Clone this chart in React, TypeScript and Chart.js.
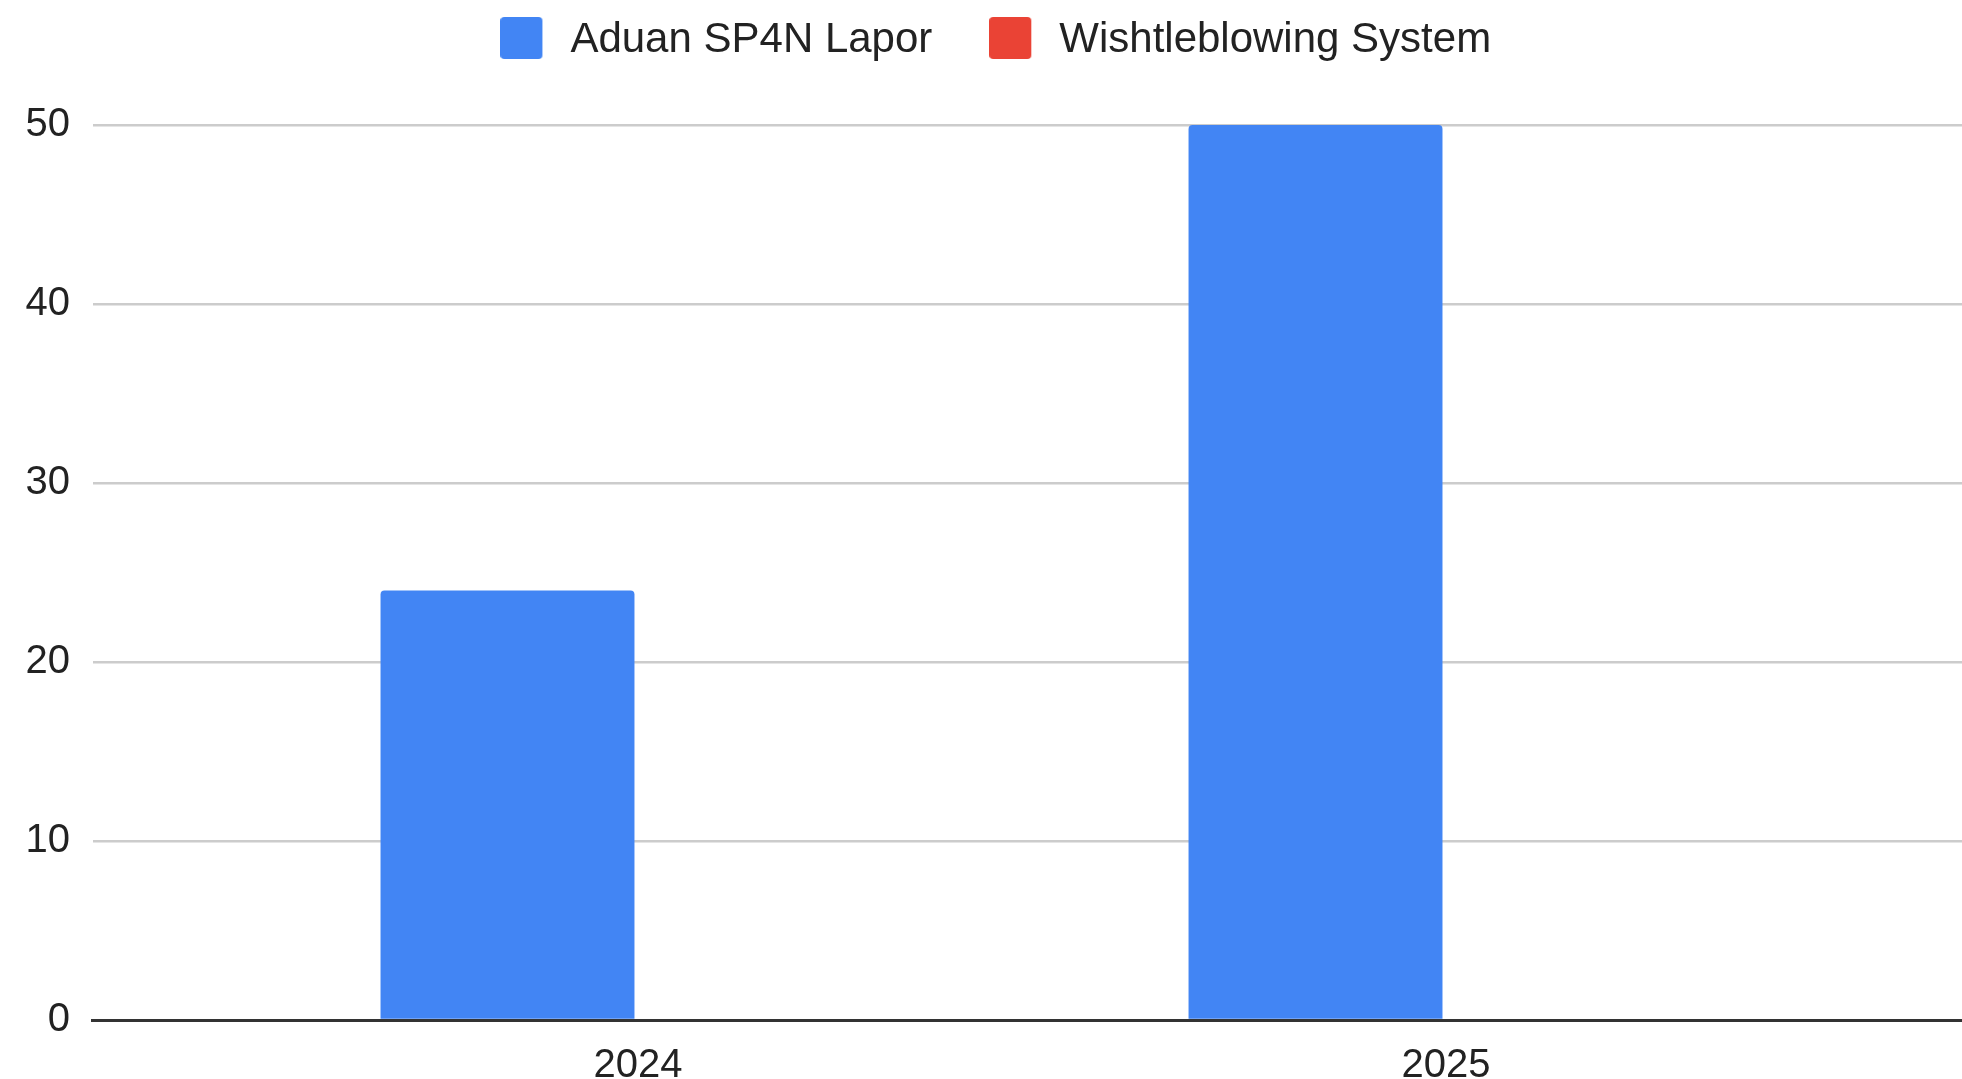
import React, { useEffect, useRef } from 'react';
import { Chart, registerables } from 'chart.js';

Chart.register(...registerables);

const categories: string[] = ['2024', '2025'];
const seriesNames: string[] = ['Aduan SP4N Lapor', 'Wishtleblowing System'];
const seriesColors: string[] = ['#4285F4', '#EA4335'];
const aduanValues: number[] = [24, 50];
const wbsValues: number[] = [0, 0];
const yMin = 0;
const yMax = 50;
const yStep = 10;

const FONT = 'Liberation Sans, Arial, Helvetica, sans-serif';
const TEXT = '#222222';

function makeSwatch(color: string): HTMLCanvasElement {
  const c = document.createElement('canvas');
  c.width = 49;
  c.height = 47;
  const g = c.getContext('2d') as any;
  g.fillStyle = color;
  g.beginPath();
  if (g.roundRect) g.roundRect(0, 0, 42, 42, 4);
  else g.rect(0, 0, 42, 42);
  g.fill();
  return c;
}

export default function App() {
  const ref = useRef<HTMLCanvasElement>(null);

  useEffect(() => {
    document.body.style.margin = '0';
    const canvas = ref.current;
    if (!canvas) return;
    const legendPad = 57;
    const legendTop = -37.5;
    const plotTop = 125;

    const legendFit = {
      id: 'legendFit',
      beforeUpdate(chart: any) {
        const lg = chart.legend;
        if (lg && !lg.__patched) {
          const orig = lg.fit.bind(lg);
          lg.fit = function () {
            orig();
            this.height = plotTop - legendTop;
          };
          lg.__patched = true;
        }
      },
    };

    const barOpts = {
      borderRadius: 4,
      borderSkipped: 'start' as const,
      borderWidth: 0,
      categoryPercentage: 0.646,
      barPercentage: 0.973,
    };

    const chart = new Chart(canvas, {
      type: 'bar',
      data: {
        datasets: [
          {
            label: seriesNames[0],
            data: categories.map((_, i) => ({ x: i, y: aduanValues[i] })),
            backgroundColor: seriesColors[0],
            pointStyle: makeSwatch(seriesColors[0]),
            ...barOpts,
          },
          {
            label: seriesNames[1],
            data: categories.map((_, i) => ({ x: i, y: wbsValues[i] })),
            backgroundColor: seriesColors[1],
            pointStyle: makeSwatch(seriesColors[1]),
            ...barOpts,
          },
        ],
      },
      options: {
        animation: false,
        responsive: false,
        maintainAspectRatio: false,
        devicePixelRatio: 1,
        layout: { padding: { left: 2.5, right: -27, top: legendTop, bottom: 0 } },
        plugins: {
          legend: {
            position: 'top',
            align: 'center',
            labels: {
              font: { family: FONT, size: 42 },
              color: TEXT,
              usePointStyle: true,
              pointStyleWidth: 49,
              boxWidth: 42,
              boxHeight: 42,
              padding: legendPad,
            },
          },
          tooltip: { enabled: false },
        },
        scales: {
          x: {
            type: 'linear',
            bounds: 'data',
            offset: false,
            min: -0.6745,
            max: 1.6386,
            grid: { display: false, offset: false },
            border: { display: true, color: '#333333', width: 3 },
            afterBuildTicks: (s: any) => {
              s.ticks = categories.map((_, i) => ({ value: i }));
            },
            afterFit: (s: any) => {
              s.height = 59;
            },
            ticks: {
              callback: (v: any) => categories[Number(v)] ?? '',
              font: { family: FONT, size: 40 },
              color: TEXT,
              padding: 14,
              maxRotation: 0,
              autoSkip: false,
            },
          },
          y: {
            min: yMin,
            max: yMax,
            ticks: {
              stepSize: yStep,
              font: { family: FONT, size: 40 },
              color: TEXT,
              padding: 23,
            },
            grid: {
              color: (ctx: any) => (ctx.tick && ctx.tick.value === 0 ? 'rgba(0,0,0,0)' : '#cccccc'),
              lineWidth: 2.5,
              drawTicks: false,
            },
            border: { display: false },
          },
        },
      },
      plugins: [legendFit],
    } as any);

    return () => chart.destroy();
  }, []);

  return (
    <canvas
      ref={ref}
      width={1962}
      height={1079}
      style={{ display: 'block', width: 1962, height: 1079 }}
    />
  );
}
